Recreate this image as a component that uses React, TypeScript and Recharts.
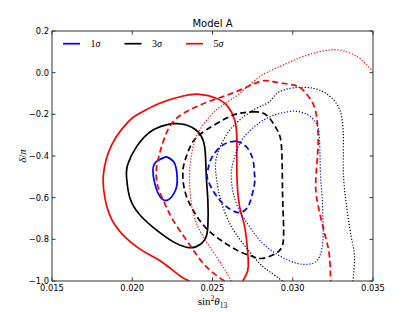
import React from "react";
import { ComposedChart, Line, XAxis, YAxis, Legend } from "recharts";

const xTicks = [0.015, 0.02, 0.025, 0.03, 0.035];
const yTicks = [-1.0, -0.8, -0.6, -0.4, -0.2, 0.0, 0.2];

const legendLabels = ["1", "3", "5"];
const levelColors = ["#0000ff", "#000000", "#ff0000"];

// [sin^2 theta13, delta/pi]
// solid lines
const blueSolid = [
    [0.02212, -0.403], [0.02264, -0.435], [0.0228, -0.506], [0.0227, -0.563], [0.02222, -0.611],
    [0.02173, -0.595], [0.0214, -0.531], [0.02129, -0.467], [0.0215, -0.427], [0.02212, -0.403],
];
const blackSolid = [
    [0.02253, -0.243], [0.02337, -0.251], [0.02409, -0.283], [0.02451, -0.355], [0.02461, -0.491],
    [0.02471, -0.611], [0.02471, -0.739], [0.02451, -0.803], [0.02399, -0.835], [0.02337, -0.838],
    [0.02253, -0.811], [0.0215, -0.755], [0.02048, -0.683], [0.01986, -0.603], [0.01965, -0.507],
    [0.01971, -0.443], [0.02027, -0.355], [0.02129, -0.275], [0.02253, -0.243],
];
const redSolid = [
    [0.02357, -1.0], [0.02295, -0.974], [0.02171, -0.902], [0.02046, -0.846], [0.01892, -0.731],
    [0.0183, -0.603], [0.0182, -0.491], [0.01872, -0.347], [0.01976, -0.235], [0.02046, -0.195],
    [0.02171, -0.147], [0.02316, -0.112], [0.0242, -0.104], [0.02524, -0.123], [0.02596, -0.163],
    [0.02638, -0.227], [0.02652, -0.323], [0.02652, -0.491], [0.02669, -0.643], [0.027, -0.739],
    [0.0272, -0.867], [0.0272, -0.947], [0.02689, -1.0],
];

// dashed lines
const blueDashed = [
    [0.02648, -0.328], [0.0271, -0.355], [0.02752, -0.419], [0.02762, -0.491], [0.02762, -0.531],
    [0.02731, -0.627], [0.02689, -0.667], [0.02638, -0.667], [0.02544, -0.611], [0.02471, -0.515],
    [0.02471, -0.467], [0.02493, -0.411], [0.02565, -0.347], [0.02648, -0.328],
];
const blackDashed = [
    [0.02752, -0.187], [0.02835, -0.203], [0.02897, -0.267], [0.02928, -0.339], [0.02935, -0.491],
    [0.02938, -0.627], [0.02943, -0.787], [0.02928, -0.843], [0.02897, -0.867], [0.02814, -0.891],
    [0.02752, -0.883], [0.02669, -0.859], [0.02565, -0.811], [0.02461, -0.747], [0.02378, -0.659],
    [0.02326, -0.563], [0.02316, -0.467], [0.02337, -0.403], [0.02378, -0.331], [0.02461, -0.275],
    [0.02586, -0.219], [0.02669, -0.195], [0.02752, -0.187],
];
const redDashed = [
    [0.02575, -1.0], [0.02482, -0.947], [0.02409, -0.883], [0.02337, -0.803], [0.02253, -0.707],
    [0.02202, -0.627], [0.0216, -0.547], [0.0215, -0.467], [0.02171, -0.387], [0.02212, -0.291],
    [0.02275, -0.219], [0.02378, -0.171], [0.02503, -0.131], [0.02648, -0.091], [0.02793, -0.043],
    [0.02876, -0.043], [0.03001, -0.059], [0.03063, -0.083], [0.03125, -0.147], [0.03151, -0.227],
    [0.03158, -0.347], [0.03145, -0.491], [0.03148, -0.595], [0.03178, -0.707], [0.03209, -0.803],
    [0.03229, -0.883], [0.03236, -1.0],
];

// dotted lines
const blueDotted = [
    [0.03001, -0.184], [0.03084, -0.198], [0.03146, -0.243], [0.03167, -0.323], [0.03173, -0.491],
    [0.03183, -0.595], [0.03188, -0.707], [0.03188, -0.803], [0.03167, -0.883], [0.03125, -0.915],
    [0.03063, -0.92], [0.0298, -0.903], [0.02876, -0.859], [0.02793, -0.803], [0.02731, -0.739],
    [0.02648, -0.627], [0.02617, -0.491], [0.02638, -0.405], [0.02675, -0.333], [0.02744, -0.27],
    [0.02831, -0.222], [0.02918, -0.196], [0.03001, -0.184],
];
const blackDotted = [
    [0.02937, -1.0], [0.02856, -0.955], [0.02793, -0.915], [0.02689, -0.819], [0.02607, -0.723],
    [0.02551, -0.611], [0.02526, -0.515], [0.02519, -0.434], [0.02544, -0.362], [0.02594, -0.29],
    [0.02669, -0.227], [0.02773, -0.171], [0.02856, -0.139], [0.02918, -0.091], [0.03063, -0.07],
    [0.03188, -0.091], [0.03271, -0.147], [0.03308, -0.227], [0.03316, -0.355], [0.03316, -0.491],
    [0.03333, -0.627], [0.03364, -0.787], [0.03385, -0.883], [0.03374, -1.0],
];
const redDotted = [
    [0.02617, -1.0], [0.02565, -0.931], [0.02482, -0.835], [0.02409, -0.739], [0.02368, -0.627],
    [0.02357, -0.491], [0.02368, -0.403], [0.02399, -0.307], [0.02482, -0.211], [0.02565, -0.155],
    [0.02669, -0.099], [0.02793, -0.02], [0.02918, 0.029], [0.03063, 0.077], [0.03229, 0.109],
    [0.03333, 0.101], [0.03416, 0.069], [0.035, 0.006],
];

const toPoints = (arr: number[][]) => arr.map(([x, y]) => ({ x, y }));

const dashStyles: Record<string, { dash?: string; width: number }> = {
    solid: { width: 1.7 },
    dashed: { dash: "6 3.5", width: 1.7 },
    dotted: { dash: "1.2 1.8", width: 1.2 },
};

const contours = [
    { id: "blueSolid", data: blueSolid, color: levelColors[0], style: "solid" },
    { id: "blackSolid", data: blackSolid, color: levelColors[1], style: "solid" },
    { id: "redSolid", data: redSolid, color: levelColors[2], style: "solid" },
    { id: "blueDashed", data: blueDashed, color: levelColors[0], style: "dashed" },
    { id: "blackDashed", data: blackDashed, color: levelColors[1], style: "dashed" },
    { id: "redDashed", data: redDashed, color: levelColors[2], style: "dashed" },
    { id: "blueDotted", data: blueDotted, color: levelColors[0], style: "dotted" },
    { id: "blackDotted", data: blackDotted, color: levelColors[1], style: "dotted" },
    { id: "redDotted", data: redDotted, color: levelColors[2], style: "dotted" },
];

const axisColor = "#333";
const tickFont = { fontSize: 8.3, fill: "#000", fontFamily: "DejaVu Sans" };
const mathFont = "Liberation Serif";

const fmtY = (v: number) => (v < -1e-9 ? "\u2212" : "") + Math.abs(v).toFixed(1);
const fmtX = (v: number) => v.toFixed(3);

function XTitle(props: any) {
    const vb = props.viewBox;
    return (
        <text x={vb.x + vb.width / 2} y={vb.y + vb.height - 7} textAnchor="middle"
            fontFamily={mathFont} fontSize={11} fill="#000">
            sin<tspan dy={-4.5} fontSize={7.5}>2</tspan>
            <tspan dy={4.5} fontStyle="italic">θ</tspan>
            <tspan dy={2.5} fontSize={7.5}>13</tspan>
        </text>
    );
}

function YTitle(props: any) {
    const vb = props.viewBox;
    const cx = vb.x + 26;
    const cy = vb.y + vb.height / 2;
    return (
        <text x={cx} y={cy} transform={`rotate(-90, ${cx}, ${cy})`} textAnchor="middle"
            fontFamily={mathFont} fontSize={11} fill="#000">
            <tspan fontStyle="italic">δ</tspan>/<tspan fontStyle="italic">π</tspan>
        </text>
    );
}

function SigmaLegend() {
    return (
        <svg width={200} height={16}>
            {legendLabels.map((n, i) => (
                <g key={n} transform={`translate(${i * 61.5}, 0)`}>
                    <line x1={0} x2={17} y1={7.7} y2={7.7} stroke={levelColors[i]} strokeWidth={1.7} />
                    <text x={27.5} y={10.8} fontFamily={mathFont} fontSize={10} fill="#000">
                        {n}<tspan fontStyle="italic">σ</tspan>
                    </text>
                </g>
            ))}
        </svg>
    );
}

export default function App() {
    return (
        <div style={{ position: "absolute", left: 0, top: 0, background: "#fff" }}>
            <ComposedChart width={415} height={312} margin={{ top: 30, right: 41, bottom: 0, left: 0 }}>
                <XAxis
                    type="number"
                    dataKey="x"
                    domain={[0.015, 0.035]}
                    allowDataOverflow
                    ticks={xTicks}
                    interval={0}
                    tickFormatter={fmtX}
                    height={31}
                    tickSize={-3.5}
                    tickMargin={7.5}
                    tick={tickFont}
                    stroke={axisColor}
                    label={{ content: XTitle }}
                />
                <XAxis
                    xAxisId="top"
                    orientation="top"
                    type="number"
                    dataKey="x"
                    domain={[0.015, 0.035]}
                    allowDataOverflow
                    ticks={xTicks}
                    interval={0}
                    tickFormatter={() => ""}
                    height={1}
                    tickSize={-3.5}
                    stroke={axisColor}
                    label={{ value: "Model A", position: "top", offset: 3, fontSize: 10, fill: "#000", fontFamily: "DejaVu Sans" }}
                />
                <YAxis
                    type="number"
                    domain={[-1, 0.2]}
                    allowDataOverflow
                    ticks={yTicks}
                    interval={0}
                    tickFormatter={fmtY}
                    width={52}
                    tickSize={-3.5}
                    tickMargin={6.5}
                    tick={tickFont}
                    stroke={axisColor}
                    label={{ content: YTitle }}
                />
                <YAxis
                    yAxisId="right"
                    orientation="right"
                    type="number"
                    domain={[-1, 0.2]}
                    allowDataOverflow
                    ticks={yTicks}
                    interval={0}
                    tickFormatter={() => ""}
                    width={1}
                    tickSize={-3.5}
                    stroke={axisColor}
                />
                <Legend
                    layout="horizontal"
                    verticalAlign="middle"
                    align="center"
                    content={SigmaLegend}
                    wrapperStyle={{ position: "absolute", left: 63, top: 36, width: 200, height: 16 }}
                />
                {contours.map((c) => (
                    <Line
                        key={c.id}
                        data={toPoints(c.data)}
                        dataKey="y"
                        type="natural"
                        stroke={c.color}
                        strokeWidth={dashStyles[c.style].width}
                        strokeDasharray={dashStyles[c.style].dash}
                        dot={false}
                        activeDot={false}
                        legendType="none"
                        isAnimationActive={false}
                    />
                ))}
            </ComposedChart>
        </div>
    );
}
